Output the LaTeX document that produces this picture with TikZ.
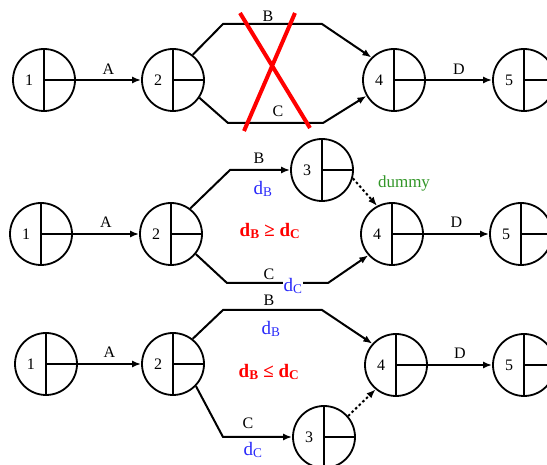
\documentclass[tikz,border=0pt]{standalone}
\usepackage{fontspec}
\setmainfont{Liberation Serif}
\usetikzlibrary{arrows.meta}
\definecolor{durblue}{RGB}{40,40,250}
\definecolor{dumgreen}{RGB}{50,150,40}
\newcommand\evfont{\fontsize{16}{18}\selectfont}
\newcommand\durfont{\fontsize{19}{21}\selectfont}
\tikzset{
  event/.style={circle, draw=black, line width=1.8pt, minimum size=62pt, inner sep=0pt,
    path picture={\draw[line width=1.2pt] (path picture bounding box.north) -- (path picture bounding box.south)
      (path picture bounding box.center) -- (path picture bounding box.east);
      \node[font=\evfont] at ([xshift=-15pt]path picture bounding box.center) {#1};}},
  act/.style={-{Latex[length=9pt,width=7pt]}, line width=2pt},
  dummyact/.style={act, dash pattern=on 2.5pt off 2.5pt},
  lbl/.style={font=\evfont, inner sep=1pt},
  dur/.style={font=\durfont, text=durblue, inner sep=1pt},
  cond/.style={font=\durfont\bfseries, text=red, inner sep=1pt},
  cross/.style={red, line width=4pt},
}
\begin{document}
\begin{tikzpicture}[x=1pt, y=-1pt]
\useasboundingbox (0,0) rectangle (547,465);
% top: parallel activities, not allowed
\node[event=1] (t1) at (44,80) {};
\node[event=2] (t2) at (173,80) {};
\node[event=4] (t4) at (394,80) {};
\node[event=5] (t5) at (524,80) {};
\draw[act] (t1) -- node[lbl, above=3pt] (tA) {A} (t2);
\draw[act] (t2.52) -- (223,24) -- (322,24) -- (t4.135);
\draw[act] (t2.-34) -- (228,123) -- (323,123) -- (t4.210);
\node[lbl] (tB) at (268,16) {B};
\node[lbl] (tC) at (278,111) {C};
\draw[act] (t4) -- node[lbl, above=3pt] (tD) {D} (t5);
\draw[cross] (240,13) -- (310,128) (295,13) -- (244,131);
% middle: dummy after B
\node[event=1] (m1) at (41,234) {};
\node[event=2] (m2) at (171,234) {};
\node[event=3] (m3) at (322,170) {};
\node[event=4] (m4) at (392,234) {};
\node[event=5] (m5) at (521,234) {};
\draw[act] (m1) -- node[lbl, above=4pt] (mA) {A} (m2);
\draw[act] (m2.53) -- (230,170) -- (m3.west);
\draw[act] (m2.-39) -- (227,283) -- (328,283) -- (m4.222);
\draw[dummyact] (m3.-15) -- (m4.118);
\draw[act] (m4) -- node[lbl, above=4pt] (mD) {D} (m5);
\node[lbl] (mB) at (259,158) {B};
\node[dur] (mdB) at (263,189) {d\textsubscript{B}};
\node[cond] (mcond) at (270,231) {d\textsubscript{B} ≥ d\textsubscript{C}};
\node[lbl] (mC) at (269,274) {C};
\node[dur, fill=white] (mdC) at (293,286) {d\textsubscript{C}};
\node[font=\fontsize{17}{19}\selectfont, text=dumgreen] (mdum) at (404,183) {dummy};
% bottom: dummy after C
\node[event=1] (b1) at (46,364) {};
\node[event=2] (b2) at (173,364) {};
\node[event=3] (b3) at (324,437) {};
\node[event=4] (b4) at (396,365) {};
\node[event=5] (b5) at (524,365) {};
\draw[act] (b1) -- node[lbl, above=4pt] (bA) {A} (b2);
\draw[act] (b2.52) -- (223,310) -- (322,310) -- (b4.138);
\draw[act] (b2.-44) -- (223,437) -- (b3.west);
\draw[dummyact] (b3.41) -- (b4.230);
\draw[act] (b4) -- node[lbl, above=4pt] (bD) {D} (b5);
\node[lbl] (bB) at (269,300) {B};
\node[dur] (bdB) at (271,329) {d\textsubscript{B}};
\node[cond] (bcond) at (269,372) {d\textsubscript{B} ≤ d\textsubscript{C}};
\node[lbl] (bC) at (248,423) {C};
\node[dur] (bdC) at (253,450) {d\textsubscript{C}};
\end{tikzpicture}
\end{document}
